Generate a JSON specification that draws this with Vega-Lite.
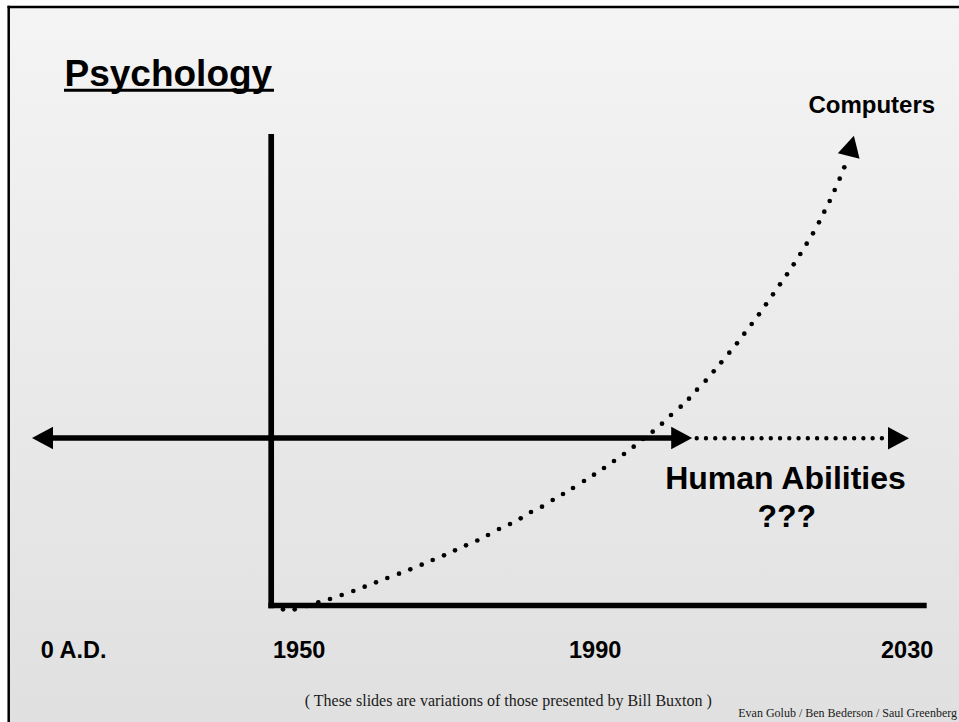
{
  "$schema": "https://vega.github.io/schema/vega-lite/v6.json",
  "width": 959,
  "height": 722,
  "padding": 0,
  "autosize": {"type": "fit", "contains": "padding"},
  "background": "white",
  "config": {"view": {"stroke": null}},
  "encoding": {
    "x": {"field": "x", "type": "quantitative", "scale": {"domain": [0, 959], "nice": false, "zero": false}, "axis": null},
    "y": {"field": "y", "type": "quantitative", "scale": {"domain": [0, 722], "reverse": true, "nice": false, "zero": false}, "axis": null}
  },
  "layer": [
    {
      "data": {"values": [{"x": 8.7, "x2": 980, "y": 7, "y2": 760}]},
      "mark": {"type": "rect", "clip": true,
        "fill": {"gradient": "linear", "x1": 0, "y1": 0, "x2": 0, "y2": 1,
          "stops": [{"offset": 0, "color": "#f4f4f4"}, {"offset": 0.95, "color": "#e0e0e0"}, {"offset": 1, "color": "#dfdfdf"}]}},
      "encoding": {"x2": {"field": "x2"}, "y2": {"field": "y2"}}
    },
    {
      "data": {"values": [{"x": 7.5, "x2": 980, "y": 7}]},
      "mark": {"type": "rule", "clip": true, "color": "black", "strokeWidth": 2.5},
      "encoding": {"x2": {"field": "x2"}}
    },
    {
      "data": {"values": [{"x": 8.7, "y": 5.8, "y2": 760}]},
      "mark": {"type": "rule", "clip": true, "color": "black", "strokeWidth": 2.5},
      "encoding": {"y2": {"field": "y2"}}
    },
    {
      "data": {"values": [
        {"x": 283, "y": 609.3}, {"x": 294.7, "y": 609.3}, {"x": 306.5, "y": 606}, {"x": 318.3, "y": 602.3},
        {"x": 330, "y": 599}, {"x": 341.7, "y": 595}, {"x": 353.3, "y": 591}, {"x": 364.7, "y": 586.7},
        {"x": 376, "y": 582.3}, {"x": 387.3, "y": 578}, {"x": 399, "y": 573.7}, {"x": 410.3, "y": 569.3},
        {"x": 421.7, "y": 564.7}, {"x": 432.7, "y": 560}, {"x": 444, "y": 555.3}, {"x": 455, "y": 550.3},
        {"x": 466, "y": 545.3}, {"x": 477.3, "y": 540.5}, {"x": 488, "y": 535}, {"x": 499, "y": 529},
        {"x": 510, "y": 524}, {"x": 520.7, "y": 518.3}, {"x": 531, "y": 512}, {"x": 542, "y": 506.7},
        {"x": 552.7, "y": 500}, {"x": 563, "y": 494}, {"x": 573, "y": 488}, {"x": 584, "y": 481},
        {"x": 594, "y": 474.7}, {"x": 604, "y": 468}, {"x": 614, "y": 461}, {"x": 624, "y": 454},
        {"x": 633.7, "y": 446.7}, {"x": 643, "y": 439}, {"x": 652.7, "y": 431.7}, {"x": 662, "y": 423.7},
        {"x": 671, "y": 415}, {"x": 680.7, "y": 406.7}, {"x": 689, "y": 398.7}, {"x": 697, "y": 389.7},
        {"x": 705.7, "y": 380.7}, {"x": 713.7, "y": 371.3}, {"x": 721.3, "y": 362.3}, {"x": 729.3, "y": 352.7},
        {"x": 737, "y": 343.3}, {"x": 744.3, "y": 333.7}, {"x": 751.7, "y": 324}, {"x": 759, "y": 314.3},
        {"x": 766, "y": 304.3}, {"x": 773, "y": 294.3}, {"x": 780, "y": 284.3}, {"x": 787, "y": 274.3},
        {"x": 793.7, "y": 264.3}, {"x": 800.3, "y": 254}, {"x": 806.7, "y": 243.7}, {"x": 813, "y": 233.3},
        {"x": 819, "y": 222.3}, {"x": 824.3, "y": 211.7}, {"x": 829.7, "y": 201}, {"x": 834.7, "y": 190},
        {"x": 839.7, "y": 178.7}, {"x": 844.3, "y": 167.3}
      ]},
      "mark": {"type": "circle", "color": "black", "opacity": 1, "size": 22}
    },
    {
      "data": {"values": [{"x": 696.7, "x2": 883, "y": 438.3}]},
      "mark": {"type": "rule", "color": "black", "strokeWidth": 4.4, "strokeCap": "round", "strokeDash": [0.01, 9.25]},
      "encoding": {"x2": {"field": "x2"}}
    },
    {
      "data": {"values": [
        {"x": 50, "x2": 674, "y": 438},
        {"x": 268.4, "x2": 926.7, "y": 605.5}
      ]},
      "mark": {"type": "rule", "color": "black", "strokeWidth": 5.6},
      "encoding": {"x2": {"field": "x2"}}
    },
    {
      "data": {"values": [{"x": 271.2, "y": 134, "y2": 608.3}]},
      "mark": {"type": "rule", "color": "black", "strokeWidth": 5.7},
      "encoding": {"y2": {"field": "y2"}}
    },
    {
      "data": {"values": [
        {"x": 42.5, "y": 438, "direction": 180},
        {"x": 681.7, "y": 438, "direction": 0},
        {"x": 898.5, "y": 438.3, "direction": 0},
        {"x": 851.3, "y": 145.8, "direction": 284.3}
      ]},
      "mark": {"type": "point", "shape": "M 1 0 L -1 -1.07 L -1 1.07 Z", "size": 441, "filled": true, "color": "black", "opacity": 1},
      "encoding": {"angle": {"field": "direction", "type": "quantitative", "scale": null}}
    },
    {
      "data": {"values": [{"x": 64, "x2": 274, "y": 90.3}]},
      "mark": {"type": "rule", "color": "black", "strokeWidth": 3},
      "encoding": {"x2": {"field": "x2"}}
    },
    {
      "data": {"values": [{"x": 64.5, "y": 86, "label": "Psychology"}]},
      "mark": {"type": "text", "font": "Liberation Sans", "fontWeight": "bold", "fontSize": 37, "align": "left", "baseline": "alphabetic", "color": "black"},
      "encoding": {"text": {"field": "label"}}
    },
    {
      "data": {"values": [
        {"x": 40.7, "y": 658, "label": "0 A.D."},
        {"x": 273, "y": 658, "label": "1950"},
        {"x": 569, "y": 658, "label": "1990"},
        {"x": 881, "y": 658, "label": "2030"}
      ]},
      "mark": {"type": "text", "font": "Liberation Sans", "fontWeight": "bold", "fontSize": 23.5, "align": "left", "baseline": "alphabetic", "color": "black"},
      "encoding": {"text": {"field": "label"}}
    },
    {
      "data": {"values": [{"x": 871.8, "y": 113.3, "label": "Computers"}]},
      "mark": {"type": "text", "font": "Liberation Sans", "fontWeight": "bold", "fontSize": 24, "align": "center", "baseline": "alphabetic", "color": "black"},
      "encoding": {"text": {"field": "label"}}
    },
    {
      "data": {"values": [
        {"x": 785.5, "y": 489, "label": "Human Abilities"},
        {"x": 786.7, "y": 526.7, "label": "???"}
      ]},
      "mark": {"type": "text", "font": "Liberation Sans", "fontWeight": "bold", "fontSize": 32, "align": "center", "baseline": "alphabetic", "color": "black"},
      "encoding": {"text": {"field": "label"}}
    },
    {
      "data": {"values": [{"x": 508.3, "y": 705.7, "label": "( These slides are variations of those presented by Bill Buxton )"}]},
      "mark": {"type": "text", "font": "Liberation Serif", "fontSize": 16, "align": "center", "baseline": "alphabetic", "color": "#1a1a1a"},
      "encoding": {"text": {"field": "label"}}
    },
    {
      "data": {"values": [{"x": 957, "y": 716.7, "label": "Evan Golub / Ben Bederson / Saul Greenberg"}]},
      "mark": {"type": "text", "font": "Liberation Serif", "fontSize": 12, "align": "right", "baseline": "alphabetic", "color": "#1a1a1a"},
      "encoding": {"text": {"field": "label"}}
    }
  ]
}
